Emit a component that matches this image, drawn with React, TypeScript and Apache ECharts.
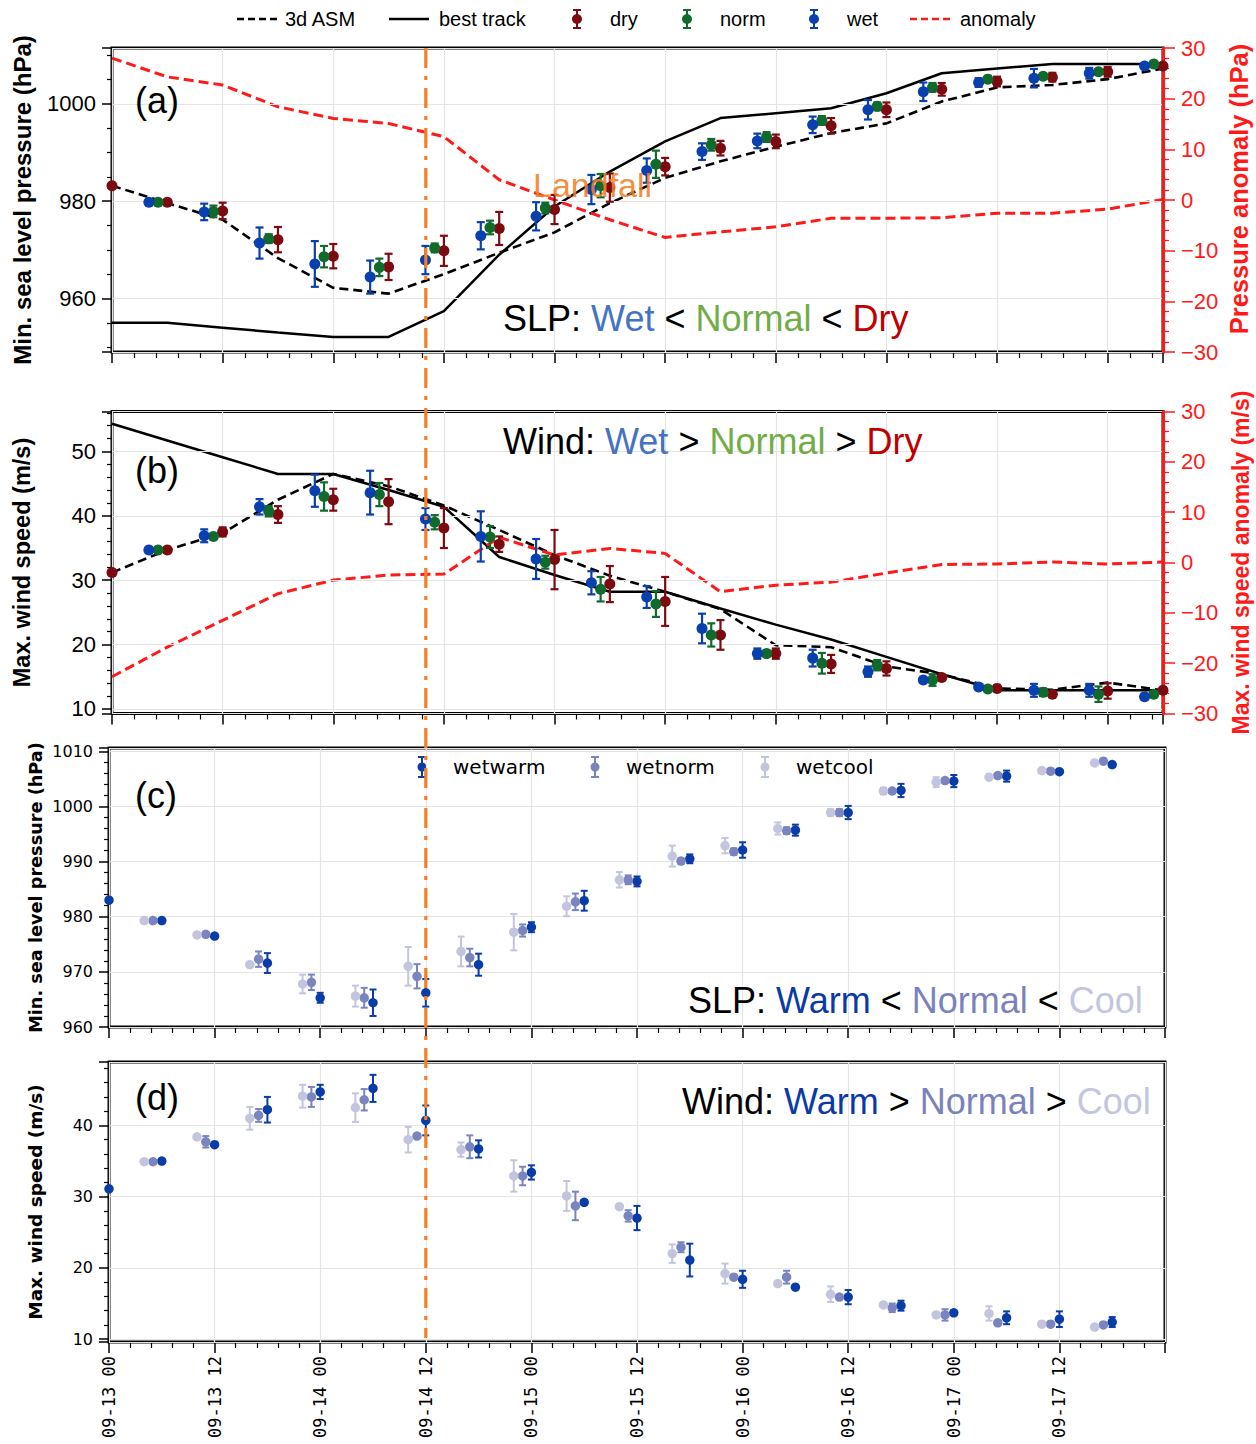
import React, { useEffect, useRef } from "react";
import * as echarts from "echarts";

// ---------------- data ----------------
const HOURS = [0, 6, 12, 18, 24, 30, 36, 42, 48, 54, 60, 66, 72, 78, 84, 90, 96, 102, 108, 114];
const LANDFALL_HOUR = 36;

// panel (a) minimum sea level pressure (hPa)
const SLP_ASM = [983.2, 979.6, 976.2, 968.3, 962.2, 961.0, 965.0, 969.4, 973.6, 979.6, 984.8, 988.2, 991.2, 994.0, 996.0, 1000.5, 1003.4, 1003.9, 1005.1, 1007.3];
const SLP_BEST = [955.0, 955.0, 954.0, 953.0, 952.1, 952.1, 957.4, 969.0, 978.9, 986.1, 992.3, 997.1, 998.1, 999.1, 1002.2, 1006.3, 1007.3, 1008.2, 1008.2, 1008.2];
const SLP_ANOM = [28.0, 24.3, 22.7, 18.4, 16.1, 15.1, 12.5, 4.0, 0.0, -3.9, -7.4, -6.3, -5.3, -3.6, -3.6, -3.5, -2.6, -2.6, -1.8, 0.1];
const SLP_DRY = [983.2, 979.8, 978.0, 972.1, 968.7, 966.5, 969.8, 974.4, 978.3, 982.8, 987.1, 990.9, 992.3, 995.5, 998.8, 1003.0, 1004.6, 1005.5, 1006.6, 1007.8];
const SLP_DRY_ERR = [0, 0.3, 1.7, 2.6, 2.5, 2.7, 3.1, 3.4, 3.0, 2.9, 1.8, 1.5, 1.4, 1.6, 1.5, 1.3, 1.0, 0.9, 1.0, 0.3];
const SLP_NORM = [983.2, 979.8, 977.9, 972.3, 968.6, 966.4, 970.4, 974.6, 978.6, 983.2, 987.6, 991.6, 993.2, 996.6, 999.5, 1003.4, 1005.1, 1005.7, 1006.6, 1008.2];
const SLP_NORM_ERR = [0, 0.3, 1.2, 0.9, 2.2, 1.8, 0.9, 1.4, 1.1, 2.4, 2.8, 1.2, 1.0, 0.9, 0.8, 0.9, 0.5, 0.5, 0.5, 0.3];
const SLP_WET = [983.2, 979.8, 977.8, 971.4, 967.1, 964.4, 967.9, 972.9, 976.9, 982.4, 986.3, 990.2, 992.4, 995.7, 998.8, 1002.5, 1004.4, 1005.3, 1006.3, 1007.8];
const SLP_WET_ERR = [0, 0.3, 1.7, 3.2, 4.7, 3.4, 2.9, 2.8, 2.9, 3.0, 2.5, 1.7, 1.5, 1.7, 2.0, 1.9, 0.9, 1.9, 1.1, 0.3];

// panel (b) maximum wind speed (m/s)
const WND_ASM = [31.2, 34.7, 37.3, 42.5, 46.5, 44.6, 41.6, 37.8, 33.9, 30.7, 28.2, 25.5, 19.9, 19.6, 16.6, 15.4, 13.2, 13.0, 14.1, 12.9];
const WND_BEST = [54.3, 51.7, 49.1, 46.5, 46.5, 44.0, 41.4, 33.6, 30.8, 28.2, 28.2, 25.6, 23.1, 20.8, 18.1, 15.4, 12.9, 12.9, 12.9, 12.9];
const WND_ANOM = [-22.7, -16.8, -11.5, -6.2, -3.5, -2.5, -2.3, 5.0, 1.5, 2.8, 1.8, -5.8, -4.5, -3.9, -2.1, -0.4, -0.3, 0.1, -0.3, 0.1];
const WND_DRY = [31.2, 34.7, 37.5, 40.2, 42.5, 42.2, 38.1, 35.6, 33.2, 29.4, 26.7, 21.5, 18.6, 17.0, 16.3, 14.9, 13.2, 12.3, 12.8, 12.9];
const WND_DRY_ERR = [0, 0.3, 0.7, 1.3, 1.7, 3.5, 3.1, 1.2, 4.6, 2.8, 3.8, 2.3, 0.8, 1.4, 1.1, 0.3, 0.3, 0.3, 1.2, 0.3];
const WND_NORM = [31.2, 34.7, 36.8, 40.7, 43.0, 43.3, 39.0, 36.7, 32.8, 28.6, 26.3, 21.5, 18.6, 17.1, 16.8, 14.5, 13.1, 12.6, 12.3, 12.3];
const WND_NORM_ERR = [0, 0.3, 0.4, 0.8, 2.2, 1.8, 1.1, 1.7, 1.0, 1.9, 2.0, 1.8, 0.5, 1.6, 0.8, 0.9, 0.3, 0.6, 1.2, 0.3];
const WND_WET = [31.2, 34.7, 36.9, 41.4, 43.9, 43.6, 39.5, 36.8, 33.3, 29.6, 27.4, 22.5, 18.6, 17.9, 15.8, 14.5, 13.4, 12.9, 12.9, 11.9];
const WND_WET_ERR = [0, 0.3, 1.0, 1.2, 2.5, 3.4, 1.7, 3.9, 3.1, 1.8, 1.7, 2.3, 0.8, 1.3, 0.8, 0.3, 0.3, 1.0, 1.0, 0.3];

// panel (c) SLP for wet warm / norm / cool
const C_WARM = [983.0, 979.3, 976.5, 971.6, 965.3, 964.4, 966.2, 971.3, 978.1, 982.9, 986.4, 990.5, 992.1, 995.7, 998.9, 1002.9, 1004.6, 1005.5, 1006.3, 1007.6];
const C_WARM_ERR = [0, 0.3, 0.3, 1.8, 0.9, 2.4, 2.5, 2.0, 0.9, 1.8, 0.9, 0.8, 1.4, 1.0, 1.2, 1.2, 1.1, 1.0, 0.3, 0.3];
const C_NORM = [983.0, 979.3, 976.8, 972.3, 968.1, 965.3, 969.2, 972.6, 977.5, 982.7, 986.7, 990.1, 991.8, 995.6, 998.9, 1002.8, 1004.7, 1005.6, 1006.4, 1008.2];
const C_NORM_ERR = [0, 0.3, 0.3, 1.4, 1.4, 1.8, 2.2, 1.6, 1.1, 1.5, 0.8, 0.5, 0.6, 0.6, 0.6, 0.3, 0.3, 0.3, 0.3, 0.3];
const C_COOL = [983.0, 979.3, 976.7, 971.3, 967.8, 965.6, 971.0, 973.7, 977.2, 981.9, 986.7, 991.0, 992.9, 996.0, 998.9, 1002.8, 1004.4, 1005.3, 1006.5, 1007.9];
const C_COOL_ERR = [0, 0.3, 0.3, 0.3, 1.7, 1.9, 3.5, 2.7, 3.3, 1.8, 1.4, 1.9, 1.4, 1.1, 0.6, 0.6, 0.9, 0.3, 0.3, 0.3];

// panel (d) wind for wet warm / norm / cool
const D_WARM = [31.1, 35.0, 37.3, 42.2, 44.7, 45.2, 40.7, 36.7, 33.4, 29.2, 27.0, 21.1, 18.4, 17.3, 15.9, 14.7, 13.7, 13.0, 12.8, 12.4];
const D_WARM_ERR = [0, 0.2, 0.2, 1.8, 1.0, 1.9, 2.1, 1.2, 1.0, 0.3, 1.7, 2.3, 1.2, 0.3, 1.0, 0.7, 0.3, 0.9, 1.1, 0.7];
const D_NORM = [31.1, 34.9, 37.7, 41.4, 44.0, 43.6, 38.5, 37.0, 32.9, 28.7, 27.3, 22.9, 18.7, 18.7, 15.9, 14.4, 13.4, 12.3, 12.1, 12.0];
const D_NORM_ERR = [0, 0.2, 0.8, 0.9, 1.4, 1.5, 0.3, 1.6, 1.3, 2.0, 0.8, 0.7, 0.3, 0.9, 0.3, 0.6, 0.8, 0.3, 0.3, 0.3];
const D_COOL = [31.1, 34.9, 38.4, 41.0, 44.1, 42.5, 38.0, 36.6, 32.9, 30.1, 28.6, 22.0, 19.2, 17.8, 16.3, 14.8, 13.4, 13.6, 12.1, 11.7];
const D_COOL_ERR = [0, 0.2, 0.2, 1.6, 1.6, 2.0, 1.8, 1.0, 2.2, 2.1, 0.3, 1.3, 1.4, 0.3, 1.1, 0.3, 0.3, 1.0, 0.3, 0.3];

// ---------------- styling / layout ----------------
const DRY_C = "#7c0a10";
const NORM_C = "#0f6a2c";
const WET_C = "#0a3fae";
const WARM_C = "#0a3ca8";
const CNORM_C = "#7a84bf";
const COOL_C = "#c2c5dd";
const RED = "#ff1a1a";
const ORANGE = "#f47f24";
const GRID_C = "#e4e4e4";
const ARIAL = '"Liberation Sans", Arial, sans-serif';
const DEJAVU = '"DejaVu Sans", sans-serif';
const MONO = '"DejaVu Sans Mono", monospace';

const AB_LEFT = 112, AB_W = 1051, AB_XMAX = 114;
const A_TOP = 48, A_H = 304;
const B_TOP = 411.5, B_H = 302;
const CD_LEFT = 109, CD_W = 1056, CD_XMAX = 120;
const C_TOP = 748, C_H = 279;
const D_TOP = 1062, D_H = 280;

const fmtTime = (v: number) => {
  const day = 13 + Math.floor(v / 24);
  const hh = v % 24;
  return `09-${day} ${hh < 10 ? "0" + hh : hh}`;
};
const fmtNum = (v: number) => (v < 0 ? "\u2212" + Math.abs(v) : String(v));

function xAxis(gi: number, max: number, labels: boolean) {
  return {
    type: "value", gridIndex: gi, min: 0, max, interval: 12,
    axisLine: { show: false, onZero: false },
    axisTick: { show: true, length: 11, lineStyle: { color: "#000", width: 1.5 } },
    minorTick: { show: true, splitNumber: 5, length: 6, lineStyle: { color: "#000", width: 1.2 } },
    splitLine: { show: true, lineStyle: { color: GRID_C, width: 1.2 } },
    axisLabel: labels
      ? { show: true, rotate: 90, margin: 14, fontFamily: MONO, fontSize: 17, color: "#000", showMaxLabel: false,
          formatter: (v: number) => (v % 12 === 0 && v < 120 ? fmtTime(v) : "") }
      : { show: false },
  };
}

function yAxis(o: any) {
  const color = o.color || "#000";
  const right = o.pos === "right";
  return {
    type: "value", gridIndex: o.gi, position: o.pos || "left", min: o.min, max: o.max,
    minInterval: o.step, maxInterval: o.step, splitNumber: Math.max(1, Math.round((o.max - o.min) / o.step)),
    name: o.name, nameLocation: "middle", nameGap: o.nameGap, nameRotate: 90, nameMoveOverlap: false,
    nameTextStyle: { color, fontFamily: o.nameFamily, fontWeight: "bold", fontSize: o.nameSize, padding: o.namePad || 0 },
    axisLine: right ? { show: true, onZero: false, lineStyle: { color, width: 3 } } : { show: false, onZero: false },
    axisTick: { show: true, length: o.tickLen, lineStyle: { color, width: 1.5 } },
    minorTick: { show: true, splitNumber: o.minor, length: o.minorLen, lineStyle: { color, width: 1.2 } },
    splitLine: { show: !right, lineStyle: { color: GRID_C, width: 1.2 } },
    axisLabel: {
      color, fontFamily: o.family, fontSize: o.size, margin: o.margin,
      formatter: (v: number) => {
        const r = v / o.step;
        if (Math.abs(r - Math.round(r)) > 1e-6) return "";
        return fmtNum(Math.round(v));
      },
    },
    z: 4,
  };
}

function lineS(xi: number, yi: number, ys: number[], color: string, type: any, width: number) {
  return {
    type: "line", xAxisIndex: xi, yAxisIndex: yi, data: HOURS.map((h, i) => [h, ys[i]]),
    symbol: "none", showSymbol: false, lineStyle: { color, width, type }, z: 3, clip: true, silent: true,
  };
}

function scatterS(name: string, xi: number, yi: number, offset: number, ys: number[], color: string, size: number) {
  return {
    type: "scatter", name, xAxisIndex: xi, yAxisIndex: yi,
    data: HOURS.map((h, i) => [h + offset, ys[i]]),
    symbol: "circle", symbolSize: size, itemStyle: { color, opacity: 1 }, z: 6, clip: true, silent: true,
  };
}

function errS(xi: number, yi: number, offset: number, ys: number[], es: number[], color: string, lw: number, cap: number) {
  return {
    type: "custom", xAxisIndex: xi, yAxisIndex: yi, z: 5, silent: true,
    data: HOURS.map((h, i) => [h + offset, ys[i], es[i]]),
    encode: { x: 0, y: 1 },
    renderItem: (params: any, api: any) => {
      const x = api.value(0), y = api.value(1), e = api.value(2);
      if (x < 0 || !(e > 0)) return null;
      const top = api.coord([x, y + e]);
      const bot = api.coord([x, y - e]);
      const st = { stroke: color, lineWidth: lw };
      return {
        type: "group",
        children: [
          { type: "line", shape: { x1: top[0], y1: top[1], x2: bot[0], y2: bot[1] }, style: st },
          { type: "line", shape: { x1: top[0] - cap, y1: top[1], x2: top[0] + cap, y2: top[1] }, style: st },
          { type: "line", shape: { x1: bot[0] - cap, y1: bot[1], x2: bot[0] + cap, y2: bot[1] }, style: st },
        ],
      };
    },
  };
}

function text(x: number, y: number, str: string, font: string, fill: string, align = "left") {
  return {
    type: "text", x, y, z: 60, silent: true,
    style: { text: str, font, fill, align, verticalAlign: "middle", textAlign: align, textVerticalAlign: "middle" },
  };
}

function richText(x: number, y: number, parts: [string, string][], colors: Record<string, string>) {
  const rich: any = {};
  Object.keys(colors).forEach((k) => {
    rich[k] = { fill: colors[k], color: colors[k], font: `36px ${ARIAL}` };
  });
  return {
    type: "text", x, y, z: 60, silent: true,
    style: {
      text: parts.map(([k, s]) => `{${k}|${s}}`).join(""),
      rich, font: `36px ${ARIAL}`, fill: "#000",
      align: "left", verticalAlign: "middle", textAlign: "left", textVerticalAlign: "middle",
    },
  };
}

function errIcon(x: number, y: number, color: string, half: number, r: number, lw: number) {
  const st = { stroke: color, lineWidth: lw };
  return {
    type: "group", z: 60, silent: true,
    children: [
      { type: "line", shape: { x1: x, y1: y - half, x2: x, y2: y + half }, style: st },
      { type: "line", shape: { x1: x - 4, y1: y - half, x2: x + 4, y2: y - half }, style: st },
      { type: "line", shape: { x1: x - 4, y1: y + half, x2: x + 4, y2: y + half }, style: st },
      { type: "circle", shape: { cx: x, cy: y, r }, style: { fill: color } },
    ],
  };
}

function segLine(x1: number, x2: number, y: number, color: string, dash: any) {
  return {
    type: "line", z: 60, silent: true,
    shape: { x1, y1: y, x2, y2: y },
    style: { stroke: color, lineWidth: 2.5, lineDash: dash },
  };
}

function buildOption() {
  const landX = CD_LEFT + (LANDFALL_HOUR / CD_XMAX) * CD_W;
  const legendFont = `20px ${ARIAL}`;
  const LY = 19;
  const grid = (left: number, top: number, width: number, height: number) => ({
    left, top, width, height, show: true, borderColor: "#000", borderWidth: 3, backgroundColor: "rgba(0,0,0,0)",
    containLabel: false, outerBoundsMode: "none",
  });
  const abCol = { k: "#000", w: "#4472c4", n: "#70ad47", d: "#c00000" };
  const cdCol = { k: "#000", w: "#0a3aa5", n: "#7a82be", c: "#c3c6de" };

  return {
    animation: false,
    backgroundColor: "#fff",
    grid: [
      grid(AB_LEFT, A_TOP, AB_W, A_H),
      grid(AB_LEFT, B_TOP, AB_W, B_H),
      grid(CD_LEFT, C_TOP, CD_W, C_H),
      grid(CD_LEFT, D_TOP, CD_W, D_H),
    ],
    xAxis: [xAxis(0, AB_XMAX, false), xAxis(1, AB_XMAX, false), xAxis(2, CD_XMAX, false), xAxis(3, CD_XMAX, true)],
    yAxis: [
      yAxis({ gi: 0, min: 949, max: 1011.5, step: 20, minor: 4, name: "Min. sea level pressure (hPa)", nameGap: 78, nameSize: 24, nameFamily: ARIAL, family: ARIAL, size: 22, margin: 16, tickLen: 10, minorLen: 5 }),
      yAxis({ gi: 0, pos: "right", color: RED, min: -30, max: 30, step: 10, minor: 5, name: "Pressure anomaly (hPa)", nameGap: 63, nameSize: 25.5, namePad: [0, 0, 0, 22], nameFamily: ARIAL, family: ARIAL, size: 22, margin: 18, tickLen: 12, minorLen: 6 }),
      yAxis({ gi: 1, min: 9.3, max: 56.2, step: 10, minor: 5, name: "Max. wind speed (m/s)", nameGap: 78, nameSize: 23.5, nameFamily: ARIAL, family: ARIAL, size: 22, margin: 16, tickLen: 10, minorLen: 5 }),
      yAxis({ gi: 1, pos: "right", color: RED, min: -30, max: 30, step: 10, minor: 5, name: "Max. wind speed anomaly (m/s)", nameGap: 66, nameSize: 23, nameFamily: ARIAL, family: ARIAL, size: 22, margin: 18, tickLen: 12, minorLen: 6 }),
      yAxis({ gi: 2, min: 960, max: 1010.6, step: 10, minor: 5, name: "Min. sea level pressure (hPa)", nameGap: 64, nameSize: 17.7, nameFamily: DEJAVU, family: DEJAVU, size: 16, margin: 16, tickLen: 10, minorLen: 5 }),
      yAxis({ gi: 3, min: 9.6, max: 48.9, step: 10, minor: 5, name: "Max. wind speed (m/s)", nameGap: 64, nameSize: 18.5, nameFamily: DEJAVU, family: DEJAVU, size: 16, margin: 16, tickLen: 10, minorLen: 5 }),
    ],
    series: [
      // panel a
      lineS(0, 0, SLP_BEST, "#000", "solid", 2.5),
      lineS(0, 0, SLP_ASM, "#000", [9, 5], 2.6),
      lineS(0, 1, SLP_ANOM, RED, [10, 5], 3),
      errS(0, 0, 0, SLP_DRY, SLP_DRY_ERR, DRY_C, 2.2, 4),
      errS(0, 0, -1, SLP_NORM, SLP_NORM_ERR, NORM_C, 2.2, 4),
      errS(0, 0, -2, SLP_WET, SLP_WET_ERR, WET_C, 2.2, 4),
      scatterS("dry", 0, 0, 0, SLP_DRY, DRY_C, 11),
      scatterS("norm", 0, 0, -1, SLP_NORM, NORM_C, 11),
      scatterS("wet", 0, 0, -2, SLP_WET, WET_C, 11),
      // panel b
      lineS(1, 2, WND_BEST, "#000", "solid", 2.5),
      lineS(1, 2, WND_ASM, "#000", [9, 5], 2.6),
      lineS(1, 3, WND_ANOM, RED, [10, 5], 3),
      errS(1, 2, 0, WND_DRY, WND_DRY_ERR, DRY_C, 2.2, 4),
      errS(1, 2, -1, WND_NORM, WND_NORM_ERR, NORM_C, 2.2, 4),
      errS(1, 2, -2, WND_WET, WND_WET_ERR, WET_C, 2.2, 4),
      scatterS("dry", 1, 2, 0, WND_DRY, DRY_C, 11),
      scatterS("norm", 1, 2, -1, WND_NORM, NORM_C, 11),
      scatterS("wet", 1, 2, -2, WND_WET, WET_C, 11),
      // panel c
      errS(2, 4, 0, C_WARM, C_WARM_ERR, WARM_C, 2, 3.5),
      errS(2, 4, -1, C_NORM, C_NORM_ERR, CNORM_C, 2, 3.5),
      errS(2, 4, -2, C_COOL, C_COOL_ERR, COOL_C, 2, 3.5),
      scatterS("wetwarm", 2, 4, 0, C_WARM, WARM_C, 9.5),
      scatterS("wetnorm", 2, 4, -1, C_NORM, CNORM_C, 9.5),
      scatterS("wetcool", 2, 4, -2, C_COOL, COOL_C, 9.5),
      // panel d
      errS(3, 5, 0, D_WARM, D_WARM_ERR, WARM_C, 2, 3.5),
      errS(3, 5, -1, D_NORM, D_NORM_ERR, CNORM_C, 2, 3.5),
      errS(3, 5, -2, D_COOL, D_COOL_ERR, COOL_C, 2, 3.5),
      scatterS("wetwarm", 3, 5, 0, D_WARM, WARM_C, 9.5),
      scatterS("wetnorm", 3, 5, -1, D_NORM, CNORM_C, 9.5),
      scatterS("wetcool", 3, 5, -2, D_COOL, COOL_C, 9.5),
    ],
    graphic: [
      // top legend
      segLine(237, 277, LY, "#000", [7, 4]),
      text(285, LY, "3d ASM", legendFont, "#000"),
      segLine(389, 429, LY, "#000", null),
      text(439, LY, "best track", legendFont, "#000"),
      errIcon(577, LY, DRY_C, 9, 5, 2),
      text(610, LY, "dry", legendFont, "#000"),
      errIcon(687, LY, NORM_C, 9, 5, 2),
      text(720, LY, "norm", legendFont, "#000"),
      errIcon(814, LY, WET_C, 9, 5, 2),
      text(847, LY, "wet", legendFont, "#000"),
      segLine(910, 950, LY, RED, [7, 4]),
      text(960, LY, "anomaly", legendFont, "#000"),
      // legend in (c)
      errIcon(422, 767, WARM_C, 10, 4.5, 2),
      text(453, 767, "wetwarm", `20px ${DEJAVU}`, "#000"),
      errIcon(595, 767, CNORM_C, 10, 4.5, 2),
      text(626, 767, "wetnorm", `20px ${DEJAVU}`, "#000"),
      errIcon(765, 767, COOL_C, 10, 4.5, 2),
      text(796, 767, "wetcool", `20px ${DEJAVU}`, "#000"),
      // panel labels
      text(135, 100, "(a)", `36px ${ARIAL}`, "#000"),
      text(135, 470, "(b)", `36px ${ARIAL}`, "#000"),
      text(135, 795, "(c)", `36px ${ARIAL}`, "#000"),
      text(135, 1097, "(d)", `36px ${ARIAL}`, "#000"),
      richText(503, 318, [["k", "SLP: "], ["w", "Wet"], ["k", " < "], ["n", "Normal"], ["k", " < "], ["d", "Dry"]], abCol),
      richText(503, 441, [["k", "Wind: "], ["w", "Wet"], ["k", " > "], ["n", "Normal"], ["k", " > "], ["d", "Dry"]], abCol),
      richText(688, 1000, [["k", "SLP: "], ["w", "Warm"], ["k", " < "], ["n", "Normal"], ["k", " < "], ["c", "Cool"]], cdCol),
      richText(682, 1101, [["k", "Wind: "], ["w", "Warm"], ["k", " > "], ["n", "Normal"], ["k", " > "], ["c", "Cool"]], cdCol),
      text(533, 185, "Landfall", `34px ${ARIAL}`, "rgba(243,128,40,0.9)"),
      // landfall line
      {
        type: "line", z: 80, silent: true,
        shape: { x1: landX, y1: A_TOP, x2: landX, y2: D_TOP + D_H - 4 },
        style: { stroke: ORANGE, lineWidth: 3.2, lineDash: [20, 8, 4, 8] },
      },
    ],
  };
}

export default function App() {
  const ref = useRef<HTMLDivElement>(null);
  useEffect(() => {
    const chart = echarts.init(ref.current!, null, { renderer: "svg" });
    chart.setOption(buildOption() as any);
    return () => chart.dispose();
  }, []);
  return (
    <div
      ref={ref}
      style={{ position: "absolute", left: 0, top: 0, width: 1256, height: 1444, background: "#fff" }}
    />
  );
}
